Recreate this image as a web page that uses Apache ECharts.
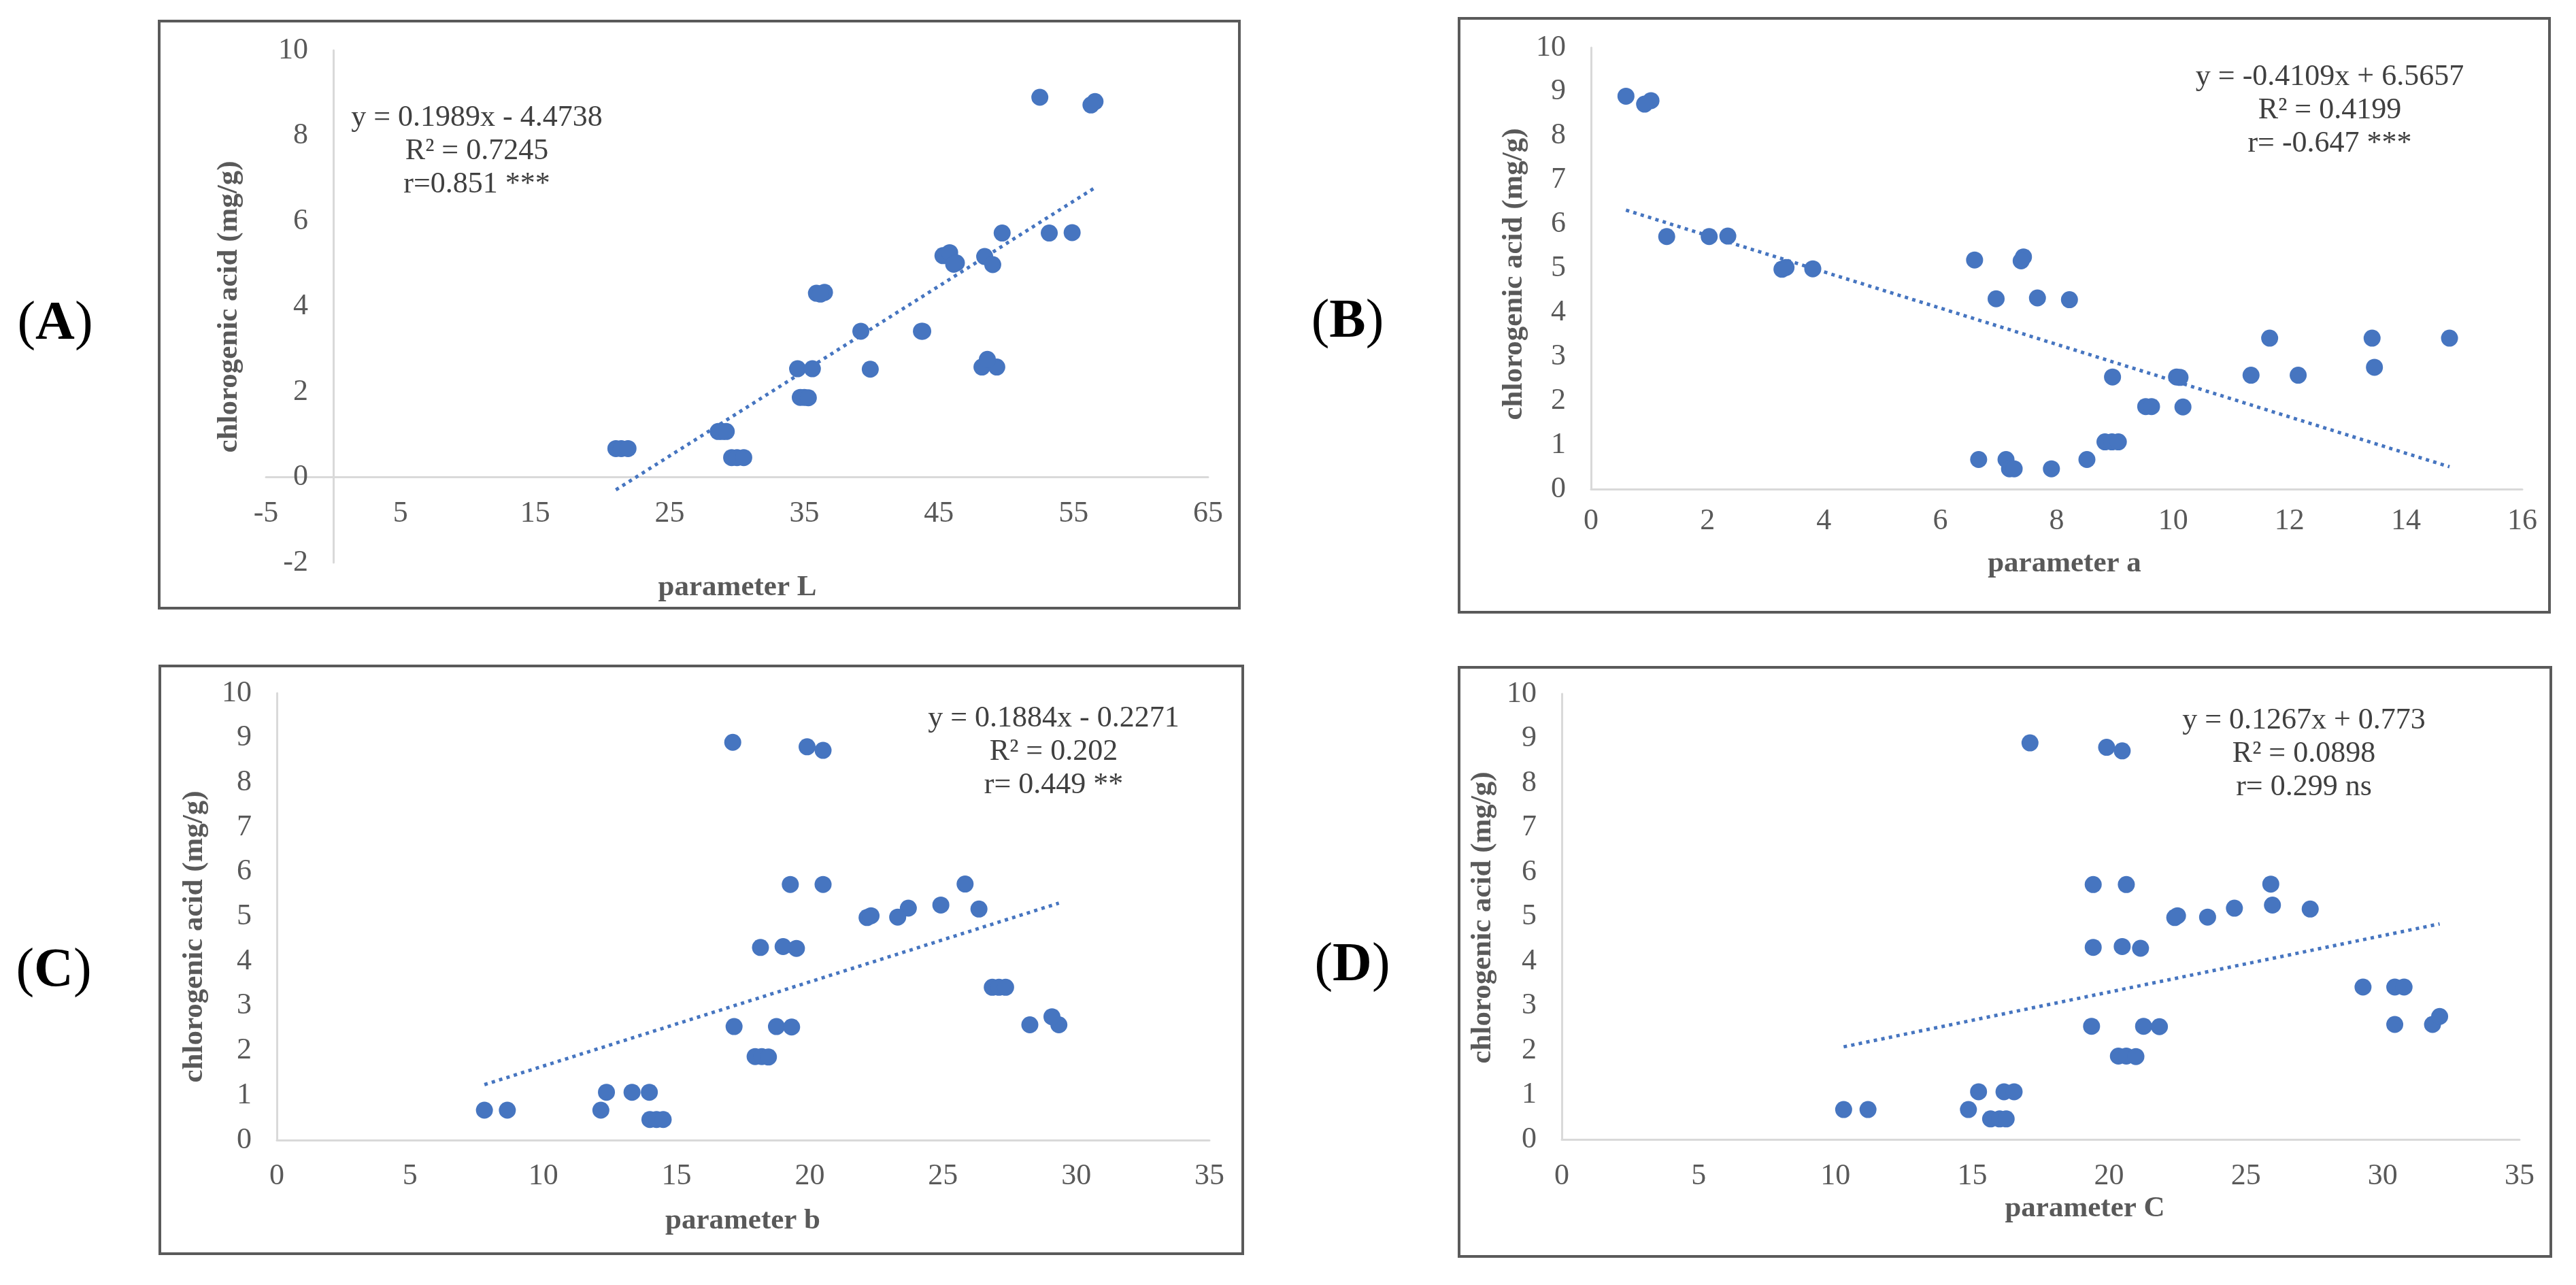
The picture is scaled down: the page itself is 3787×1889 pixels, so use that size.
<!DOCTYPE html>
<html>
<head>
<meta charset="utf-8">
<script src="https://cdn.jsdelivr.net/npm/echarts@6/dist/echarts.min.js"></script>
<style>
  body { margin: 0; background: #fff; }
  #main { width: 3787px; height: 1889px; }
</style>
</head>
<body>
<div id="main"></div>
<script>
// chlorogenic acid (mg/g), same order in every panel
const acid = [
  8.90, 8.80, 8.72,
  5.72, 5.72, 5.73,
  5.19, 5.26, 5.17,
  4.98, 5.02, 4.99,
  4.31, 4.33, 4.29,
  3.42, 3.42, 3.42,
  2.54, 2.54, 2.53,
  2.58, 2.58, 2.76,
  1.87, 1.87, 1.86,
  1.07, 1.07, 1.07,
  0.67, 0.67, 0.67,
  0.46, 0.46, 0.46
];
const paramL = [
  52.5, 56.6, 56.3,
  49.7, 53.2, 54.9,
  45.3, 45.8, 48.4,
  49.0, 46.3, 46.1,
  35.9, 36.5, 36.2,
  39.2, 43.7, 43.8,
  34.5, 35.6, 39.9,
  48.2, 49.3, 48.6,
  34.7, 35.0, 35.3,
  28.6, 28.9, 29.2,
  21.0, 21.4, 21.9,
  29.6, 30.0, 30.5
];
const paramA = [
  0.60, 1.03, 0.92,
  1.30, 2.03, 2.35,
  6.59, 7.43, 7.39,
  3.28, 3.35, 3.81,
  6.96, 7.67, 8.22,
  11.66, 13.42, 14.75,
  8.96, 10.06, 10.12,
  11.34, 12.15, 13.46,
  9.53, 9.63, 10.17,
  8.83, 8.95, 9.06,
  6.66, 7.13, 8.52,
  7.19, 7.27, 7.91
];
const paramB = [
  17.11, 19.9, 20.5,
  19.27, 20.5, 25.83,
  23.7, 24.92, 26.35,
  22.15, 22.3, 23.3,
  18.15, 19.0, 19.5,
  26.85, 27.1, 27.35,
  17.16, 18.75, 19.32,
  28.26, 29.35, 29.09,
  17.95, 18.2, 18.45,
  12.37, 13.33, 13.98,
  7.79, 8.65, 12.16,
  14.0, 14.25, 14.5
];
const paramC = [
  17.11, 19.91, 20.48,
  19.42, 20.63, 25.91,
  24.58, 25.97, 27.35,
  22.4, 22.5, 23.6,
  19.42, 20.48, 21.15,
  29.28, 30.44, 30.78,
  19.36, 21.26, 21.84,
  30.44, 31.82, 32.08,
  20.34, 20.63, 20.98,
  15.23, 16.16, 16.53,
  10.30, 11.19, 14.86,
  15.67, 16.0, 16.24
];
// trendline coefficients [slope, intercept] as printed on the chart
const fitL = [0.1989, -4.4738];
const fitA = [-0.4109, 6.5657];
const fitB = [0.1884, -0.2271];
const fitC = [0.1267, 0.773];
const eqText = [
  'y = 0.1989x - 4.4738\nR² = 0.7245\nr=0.851 ***',
  'y = -0.4109x + 6.5657\nR² = 0.4199\nr= -0.647 ***',
  'y = 0.1884x - 0.2271\nR² = 0.202\nr= 0.449 **',
  'y = 0.1267x + 0.773\nR² = 0.0898\nr= 0.299 ns'
];
const xNames = ['parameter L', 'parameter a', 'parameter b', 'parameter C'];
const panelNames = ['A', 'B', 'C', 'D'];

const serif = "'Times New Roman', 'Liberation Serif', serif";
const blue = '#4675c0';

function pairs(xs) {
  return xs.map((x, i) => [x, acid[i]]);
}
function trend(xs, fit) {
  let lo = Math.min(...xs);
  let hi = Math.max(...xs);
  return [[lo, fit[0] * lo + fit[1]], [hi, fit[0] * hi + fit[1]]];
}

// layout of the four panels
const grids = [
  { left: 391, top: 74, width: 1385, height: 753 },
  { left: 2339, top: 70, width: 1369, height: 649 },
  { left: 407, top: 1019, width: 1371, height: 657 },
  { left: 2296, top: 1020, width: 1408, height: 655 }
];
const xRanges = [[-5, 65, 10], [0, 16, 2], [0, 35, 5], [0, 35, 5]];
const yRanges = [[-2, 10, 2], [0, 10, 1], [0, 10, 1], [0, 10, 1]];
const xMargins = [32, 25, 31, 32];

const xList = [paramL, paramA, paramB, paramC];
const fits = [fitL, fitA, fitB, fitC];

function axisCommon() {
  return {
    axisLine: { onZero: false, lineStyle: { color: '#d9d9d9', width: 3 } },
    axisTick: { show: false },
    splitLine: { show: false },
    axisLabel: { color: '#595959', fontSize: 44, fontFamily: serif, showMinLabel: true, showMaxLabel: true }
  };
}

let xAxis = [];
let yAxis = [];
let series = [];
for (let i = 0; i < 4; i++) {
  let g = grids[i];
  let xr = xRanges[i];
  let yr = yRanges[i];

  let xa = axisCommon();
  xa.type = 'value';
  xa.gridIndex = i;
  xa.min = xr[0];
  xa.max = xr[1];
  xa.interval = xr[2];
  xa.axisLabel.margin = xMargins[i];
  // axis sits on y = 0 (panel A has negative y), labels move with it
  xa.offset = -g.height * (0 - yr[0]) / (yr[1] - yr[0]);
  xAxis.push(xa);

  let ya = axisCommon();
  ya.type = 'value';
  ya.gridIndex = i;
  ya.min = yr[0];
  ya.max = yr[1];
  ya.interval = yr[2];
  ya.axisLabel.margin = 37;
  ya.offset = -g.width * (0 - xr[0]) / (xr[1] - xr[0]);
  yAxis.push(ya);

  series.push({
    type: 'line',
    xAxisIndex: i,
    yAxisIndex: i,
    data: trend(xList[i], fits[i]),
    showSymbol: false,
    symbol: 'none',
    lineStyle: { color: blue, width: 5, type: [5, 6.3] },
    z: 2
  });
  series.push({
    type: 'scatter',
    xAxisIndex: i,
    yAxisIndex: i,
    data: pairs(xList[i]),
    symbolSize: 25,
    itemStyle: { color: blue, opacity: 1 },
    z: 3
  });
}

// frames, labels, titles and the equation boxes
const boxes = [
  [234, 31, 1588, 863],
  [2145, 27, 1603, 873],
  [235, 979, 1592, 864],
  [2145, 981, 1605, 866]
];
const xTitlePos = [[1084, 864], [3035, 829], [1092, 1795], [3065, 1777]];
const yTitlePos = [[337, 451], [2226, 403], [286, 1377], [2180, 1349]];
const eqPos = [[701, 222], [3425, 162], [1549, 1105], [3387, 1108]];
const panelPos = [[81, 477], [1981, 474], [79, 1428], [1988, 1420]];

let graphic = [];
for (let i = 0; i < 4; i++) {
  graphic.push({
    type: 'rect',
    shape: { x: boxes[i][0], y: boxes[i][1], width: boxes[i][2], height: boxes[i][3] },
    style: { fill: 'none', stroke: '#5a5a5a', lineWidth: 4 }
  });
  graphic.push({
    type: 'text', x: xTitlePos[i][0], y: xTitlePos[i][1],
    style: {
      text: xNames[i], fontSize: 43, fontWeight: 'bold', fontFamily: serif,
      fill: '#595959', align: 'center', verticalAlign: 'middle'
    }
  });
  graphic.push({
    type: 'text', x: yTitlePos[i][0], y: yTitlePos[i][1], rotation: Math.PI / 2,
    style: {
      text: 'chlorogenic acid (mg/g)', fontSize: 43, fontWeight: 'bold', fontFamily: serif,
      fill: '#595959', align: 'center', verticalAlign: 'middle'
    }
  });
  graphic.push({
    type: 'text', x: eqPos[i][0], y: eqPos[i][1],
    style: {
      text: eqText[i], fontSize: 44, fontFamily: serif, lineHeight: 49,
      fill: '#404040', align: 'center', verticalAlign: 'middle'
    }
  });
  graphic.push({
    type: 'text', x: panelPos[i][0], y: panelPos[i][1],
    style: {
      text: '({b|' + panelNames[i] + '})', fontSize: 80, fontFamily: serif,
      fill: '#000', align: 'center', verticalAlign: 'middle',
      rich: { b: { fontSize: 80, fontFamily: serif, fontWeight: 'bold', fill: '#000' } }
    }
  });
}

let myChart = echarts.init(document.getElementById('main'));
let option = {
  backgroundColor: '#fff',
  animation: false,
  grid: grids,
  xAxis: xAxis,
  yAxis: yAxis,
  series: series,
  graphic: graphic
};
myChart.setOption(option);
</script>
</body>
</html>
